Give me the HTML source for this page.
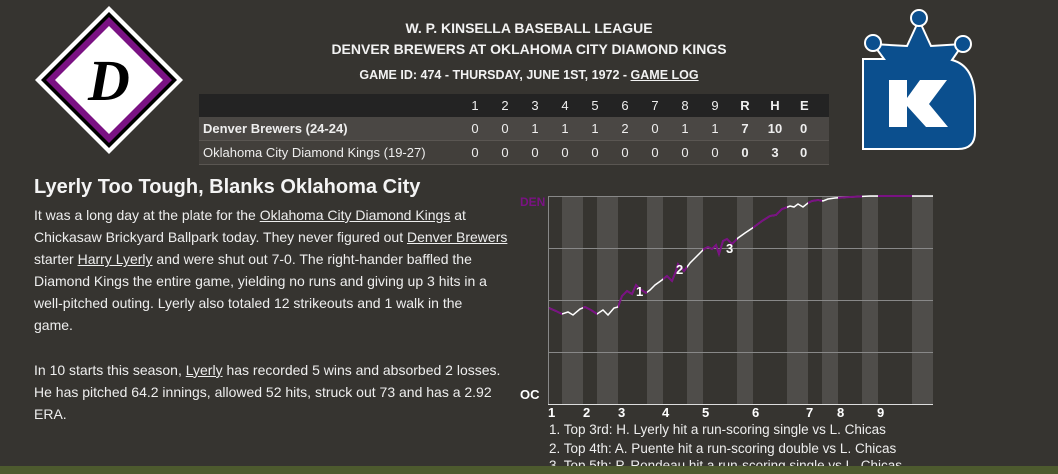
<!DOCTYPE html>
<html><head><style>
body{margin:0;width:1058px;height:474px;background:#363430;overflow:hidden;font-family:"Liberation Sans",sans-serif;color:#eee;position:relative}
.hd{position:absolute;left:0;width:1058px;text-align:center;font-weight:bold;color:#f2f2f2}
table{position:absolute;left:199px;top:94px;width:630px;border-collapse:collapse;font-size:13px;table-layout:fixed}
td{height:23px;padding:0;text-align:center;width:30px}
td.n{text-align:left;padding-left:4px;width:257px;white-space:nowrap}
td.e{width:29px;text-align:left;padding-left:10px}
tr.h td{background:#232323;height:23px}
tr.a td{background:#4a4744;border-bottom:1px solid #5a5652}
tr.b td{background:#423f3b;border-bottom:1px solid #5a5652}
.story{position:absolute;left:34px;top:204px;width:480px;font-size:14px;line-height:22.1px;color:#eee}
u{text-decoration:underline}
</style></head><body>
<div class="hd" style="top:20px;font-size:14px">W. P. KINSELLA BASEBALL LEAGUE</div>
<div class="hd" style="top:41px;font-size:14px">DENVER BREWERS AT OKLAHOMA CITY DIAMOND KINGS</div>
<div class="hd" style="top:68px;font-size:12.5px">GAME ID: 474 - THURSDAY, JUNE 1ST, 1972 - <u>GAME LOG</u></div>
<svg style="position:absolute;left:30px;top:0" width="160" height="160">
<polygon points="79,6 153,80 79,154 5,80" fill="#fff"/>
<polygon points="79,12 147,80 79,148 11,80" fill="#000"/>
<polygon points="79,17 142,80 79,143 16,80" fill="#7a1283"/>
<polygon points="79,26 133,80 79,134 25,80" fill="#fff"/>
<text x="79" y="100" text-anchor="middle" font-family="Liberation Serif,serif" font-style="italic" font-weight="bold" font-size="58" fill="#000">D</text>
</svg>
<svg style="position:absolute;left:0;top:0" width="1058" height="160">
<g fill="#0b4f8e" stroke="#fff" stroke-width="2">
<path d="M863,59 H884 L873,44 L907,46 L919,20 L931,46 L963,44 L952,60 Q975,66 975,100 V132 Q975,149 958,149 H863 Z"/>
<circle cx="873" cy="43" r="8"/><circle cx="919" cy="18" r="8"/><circle cx="963" cy="44" r="8"/>
</g>
<path d="M889,80 H907 V98 L920,80 H947 L929,104 L948,127 H926 L907,106 V127 H889 Z" fill="#fff"/>
</svg>
<table>
<tr class="h"><td class="n"></td><td>1</td><td>2</td><td>3</td><td>4</td><td>5</td><td>6</td><td>7</td><td>8</td><td>9</td><td><b>R</b></td><td><b>H</b></td><td class="e"><b>E</b></td></tr>
<tr class="a"><td class="n"><b>Denver Brewers (24-24)</b></td><td>0</td><td>0</td><td>1</td><td>1</td><td>1</td><td>2</td><td>0</td><td>1</td><td>1</td><td><b>7</b></td><td><b>10</b></td><td class="e"><b>0</b></td></tr>
<tr class="b"><td class="n">Oklahoma City Diamond Kings (19-27)</td><td>0</td><td>0</td><td>0</td><td>0</td><td>0</td><td>0</td><td>0</td><td>0</td><td>0</td><td><b>0</b></td><td><b>3</b></td><td class="e"><b>0</b></td></tr>
</table>
<div style="position:absolute;left:34px;top:176px;font-size:20px;font-weight:bold;color:#f4f4f4">Lyerly Too Tough, Blanks Oklahoma City</div>
<div class="story">It was a long day at the plate for the <u>Oklahoma City Diamond Kings</u> at Chickasaw Brickyard Ballpark today. They never figured out <u>Denver Brewers</u> starter <u>Harry Lyerly</u> and were shut out 7-0. The right-hander baffled the Diamond Kings the entire game, yielding no runs and giving up 3 hits in a well-pitched outing. Lyerly also totaled 12 strikeouts and 1 walk in the<br>game.<br><br>In 10 starts this season, <u>Lyerly</u> has recorded 5 wins and absorbed 2 losses. He has pitched 64.2 innings, allowed 52 hits, struck out 73 and has a 2.92 ERA.</div>
<svg style="position:absolute;left:0;top:0" width="1058" height="474" font-family="Liberation Sans,sans-serif">
<defs><clipPath id="top"><rect x="540" y="180" width="22" height="240"/><rect x="583" y="180" width="14" height="240"/><rect x="618" y="180" width="29" height="240"/><rect x="663" y="180" width="24" height="240"/><rect x="703" y="180" width="34" height="240"/><rect x="753" y="180" width="34" height="240"/><rect x="808" y="180" width="14" height="240"/><rect x="838" y="180" width="24" height="240"/><rect x="878" y="180" width="34" height="240"/></clipPath></defs>
<g fill="#4f4d4a"><rect x="562" y="196" width="21" height="208"/><rect x="597" y="196" width="21" height="208"/><rect x="647" y="196" width="16" height="208"/><rect x="687" y="196" width="16" height="208"/><rect x="737" y="196" width="16" height="208"/><rect x="787" y="196" width="21" height="208"/><rect x="822" y="196" width="16" height="208"/><rect x="862" y="196" width="16" height="208"/><rect x="912" y="196" width="21" height="208"/></g>
<g stroke="#888" stroke-width="1"><line x1="548" y1="196.5" x2="933" y2="196.5"/><line x1="548" y1="248.5" x2="933" y2="248.5"/><line x1="548" y1="300.5" x2="933" y2="300.5"/><line x1="548" y1="352.5" x2="933" y2="352.5"/><line x1="548.5" y1="196" x2="548.5" y2="404"/></g>
<line x1="548" y1="404.5" x2="933" y2="404.5" stroke="#ddd"/>
<polyline fill="none" stroke="#fff" stroke-width="1.5" points="549,308 556,311 562,314 568,312 573,315 580,309 585,307 591,310 597,314 603,310 608,315 614,308 618,307 622,296 627,291 632,294 636,285 640,289 646,293 650,290 655,285 662,280 667,276 672,281 676,271 678,264 684,271 690,263 695,258 700,253 704,249 708,247 712,249 716,245 719,254 723,241 727,239 732,244 738,238 745,233 754,227 762,221 770,216 776,215 782,209 785,208 790,206 794,207 798,204 803,207 808,203 812,201 818,200 823,201 828,199 835,198 850,197 870,196 933,196"/>
<polyline clip-path="url(#top)" fill="none" stroke="#7a1283" stroke-width="2" points="549,308 556,311 562,314 568,312 573,315 580,309 585,307 591,310 597,314 603,310 608,315 614,308 618,307 622,296 627,291 632,294 636,285 640,289 646,293 650,290 655,285 662,280 667,276 672,281 676,271 678,264 684,271 690,263 695,258 700,253 704,249 708,247 712,249 716,245 719,254 723,241 727,239 732,244 738,238 745,233 754,227 762,221 770,216 776,215 782,209 785,208 790,206 794,207 798,204 803,207 808,203 812,201 818,200 823,201 828,199 835,198 850,197 870,196 933,196"/>
<g font-weight="bold" font-size="13" fill="#fff"><text x="636" y="296">1</text><text x="676" y="274">2</text><text x="726" y="253">3</text></g>
<text x="520" y="206" font-size="12" font-weight="bold" fill="#7a1283">DEN</text>
<text x="520" y="399" font-size="13" font-weight="bold" fill="#fff">OC</text>
<g font-size="13" font-weight="bold" fill="#fff"><text x="548" y="417">1</text><text x="583" y="417">2</text><text x="618" y="417">3</text><text x="662" y="417">4</text><text x="702" y="417">5</text><text x="752" y="417">6</text><text x="806" y="417">7</text><text x="837" y="417">8</text><text x="877" y="417">9</text></g>
<g font-size="13.5" fill="#eee"><text x="549" y="434">1. Top 3rd: H. Lyerly hit a run-scoring single vs L. Chicas</text><text x="549" y="453">2. Top 4th: A. Puente hit a run-scoring double vs L. Chicas</text><text x="549" y="470">3. Top 5th: P. Rondeau hit a run-scoring single vs L. Chicas</text></g>
</svg>
<div style="position:absolute;left:0;top:466px;width:1058px;height:8px;background:#4d5a2e"></div>
</body></html>
